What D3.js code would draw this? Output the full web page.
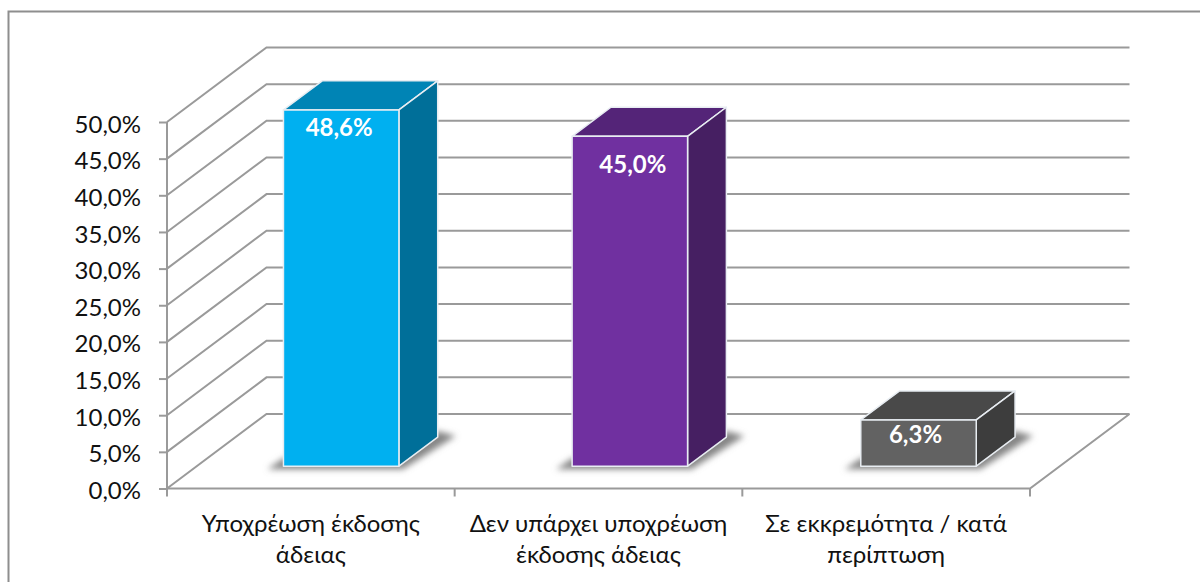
<!DOCTYPE html>
<html lang="el">
	<head>
		<meta charset="utf-8">
		<title>D3: 3D column chart</title>
		<script src="https://cdnjs.cloudflare.com/ajax/libs/d3/7.8.5/d3.min.js"></script>
		<style>
			html, body { margin: 0; padding: 0; background: #fff; overflow: hidden; }
			svg { display: block; }
		</style>
	</head>
	<body>
		<script>
			// data
			var categories = [
				["Υποχρέωση έκδοσης", "άδειας"],
				["Δεν υπάρχει υποχρέωση", "έκδοσης άδειας"],
				["Σε εκκρεμότητα / κατά", "περίπτωση"]
			];
			var values = [48.6, 45.0, 6.3];
			var valueLabels = ["48,6%", "45,0%", "6,3%"];
			var ticks = [0, 5, 10, 15, 20, 25, 30, 35, 40, 45, 50];

			var frontColors = ["#00b0f0", "#7030a0", "#626262"];
			var topColors = ["#0084b5", "#542478", "#494949"];
			var sideColors = ["#006f99", "#461f62", "#3d3d3d"];

			//Width and height
			var w = 1200;
			var h = 582;
			var fontName = "Lato, 'Open Sans', sans-serif";
			var fontSize = "24px";
			// the labels do not sit at a fixed place on the bars
			var labelDrop = [26, 37, 23];
			var labelShift = [-2, 3, -3];

			var x = d3.scaleBand()
				.domain(d3.range(values.length))
				.range([167, 1030])
				.paddingInner(0.6)
				.paddingOuter(0.3);

			// bars run on a very slightly wider step than the axis ticks
			var barX = d3.scaleBand()
				.domain(d3.range(values.length))
				.range([167, 1033])
				.paddingInner(0.6)
				.paddingOuter(0.3);

			var y = d3.scaleLinear().domain([0, 50]).range([488.5, 122]);

			// depth goes from the front edge of the floor (0) to the back wall (1)
			var depthX = d3.scaleLinear().domain([0, 1]).range([0, 99.5]);
			var depthY = d3.scaleLinear().domain([0, 1]).range([0, -74.5]);
			var barNear = 0.3;
			var barFar = 0.69;

			function pt(px, v, d) {
				return [px + depthX(d), y(v) + depthY(d)];
			}
			var line = d3.line();

			var svg = d3.select("body").append("svg")
				.attr("width", w)
				.attr("height", h);

			var defs = svg.append("defs");
			defs.append("filter")
				.attr("id", "blur")
				.attr("x", "-20%").attr("y", "-60%")
				.attr("width", "140%").attr("height", "220%")
				.append("feGaussianBlur")
				.attr("stdDeviation", 3);

			// frame, open on the right and at the bottom
			svg.append("path")
				.attr("d", "M8.5,582V11.5H1200")
				.attr("fill", "none")
				.attr("stroke", "#8e8e8e")
				.attr("stroke-width", 2);

			var gridColor = "#9a9a9a";
			var left = x.range()[0];
			var right = x.range()[1];

			// wall gridlines
			svg.append("g").selectAll("path")
				.data(ticks)
				.enter()
				.append("path")
				.attr("d", function(d) {
					return line([pt(left, d, 0), pt(left, d, 1), pt(right, d, 1)]);
				})
				.attr("fill", "none")
				.attr("stroke", gridColor)
				.attr("stroke-width", 2);

			// floor right edge and front edge
			svg.append("path")
				.attr("d", line([pt(right, 0, 1), pt(right, 0, 0), pt(left, 0, 0)]))
				.attr("fill", "none")
				.attr("stroke", gridColor)
				.attr("stroke-width", 2);

			// axes
			var yAxis = d3.axisLeft(y)
				.tickValues(ticks)
				.tickSize(8)
				.tickPadding(18)
				.tickFormat(function(d) { return d3.format(".1f")(d).replace(".", ",") + "%"; });

			var gy = svg.append("g")
				.attr("transform", "translate(" + left + ",0)")
				.call(yAxis);
			gy.selectAll("line").attr("stroke", gridColor).attr("stroke-width", 2);
			gy.select(".domain").attr("stroke", gridColor).attr("stroke-width", 2).attr("d", "M0," + y(50) + "V" + y(0));
			gy.selectAll("text")
				.attr("font-family", fontName)
				.attr("font-size", fontSize)
				.attr("dy", "0.42em")
				.attr("fill", "#111");

			// category ticks sit on the band edges
			var step = x.step();
			svg.append("g").selectAll("line")
				.data(d3.range(values.length + 1))
				.enter()
				.append("line")
				.attr("x1", function(d) { return left + d * step; })
				.attr("x2", function(d) { return left + d * step; })
				.attr("y1", y(0))
				.attr("y2", y(0) + 8)
				.attr("stroke", gridColor)
				.attr("stroke-width", 2);

			// category labels
			var catLabels = svg.append("g").selectAll("text")
				.data(categories)
				.enter()
				.append("text")
				.attr("text-anchor", "middle")
				.attr("font-family", fontName)
				.attr("font-size", fontSize)
				.attr("fill", "#111");
			catLabels.selectAll("tspan")
				.data(function(d, i) {
					return d.map(function(t, j) { return { t: t, j: j, i: i }; });
				})
				.enter()
				.append("tspan")
				.attr("x", function(d) { return left + (d.i + 0.5) * step; })
				.attr("y", function(d) { return 532 + d.j * 31; })
				.text(function(d) { return d.t; });

			// bars
			var bars = svg.append("g").selectAll("g")
				.data(values)
				.enter()
				.append("g");

			// soft shadow on the floor
			bars.append("path")
				.attr("d", function(d, i) {
					var x0 = barX(i), x1 = barX(i) + barX.bandwidth();
					var p0 = pt(x0, 0, barNear), p1 = pt(x1, 0, barNear), p2 = pt(x1, 0, barFar);
					return line([
						[p0[0] - 16, p0[1] + 3],
						[p1[0] + 4, p1[1] + 3],
						[p2[0] + 18, p2[1] - 1],
						[p2[0], p2[1] - 6],
						[p1[0], p1[1] - 8],
						[p0[0], p0[1] - 8]
					]) + "Z";
				})
				.attr("fill", "#858585")
				.attr("filter", "url(#blur)");

			function face(sel, pts, colors) {
				sel.append("path")
					.attr("d", function(d, i) { return line(pts(d, i)) + "Z"; })
					.attr("fill", function(d, i) { return colors[i]; })
					.attr("stroke", "#e8edf2")
					.attr("stroke-width", 1.5)
					.attr("stroke-linejoin", "round");
			}

			// top face
			face(bars, function(d, i) {
				var x0 = barX(i), x1 = barX(i) + barX.bandwidth();
				return [pt(x0, d, barNear), pt(x1, d, barNear), pt(x1, d, barFar), pt(x0, d, barFar)];
			}, topColors);
			// side face
			face(bars, function(d, i) {
				var x1 = barX(i) + barX.bandwidth();
				return [pt(x1, 0, barNear), pt(x1, 0, barFar), pt(x1, d, barFar), pt(x1, d, barNear)];
			}, sideColors);
			// front face
			face(bars, function(d, i) {
				var x0 = barX(i), x1 = barX(i) + barX.bandwidth();
				return [pt(x0, 0, barNear), pt(x1, 0, barNear), pt(x1, d, barNear), pt(x0, d, barNear)];
			}, frontColors);

			// value labels
			bars.append("text")
				.attr("x", function(d, i) { return pt(barX(i) + barX.bandwidth() / 2, d, barNear)[0] + labelShift[i]; })
				.attr("y", function(d, i) { return pt(0, d, barNear)[1] + labelDrop[i]; })
				.attr("text-anchor", "middle")
				.attr("font-family", fontName)
				.attr("font-size", fontSize)
				.attr("font-weight", "bold")
				.attr("fill", "#fff")
				.text(function(d, i) { return valueLabels[i]; });
		</script>
	</body>
</html>
